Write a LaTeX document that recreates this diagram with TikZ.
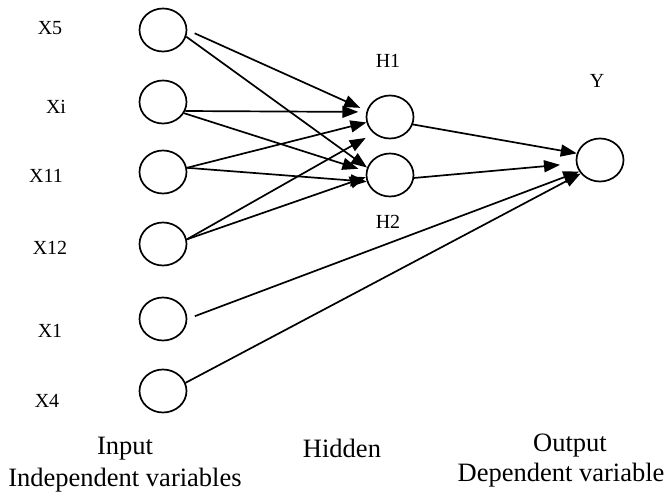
\documentclass[tikz,border=0pt]{standalone}
\usepackage{fontspec}
\setmainfont{Liberation Serif}
\usetikzlibrary{shapes.geometric,arrows.meta}
\begin{document}
\begin{tikzpicture}[x=1pt,y=-1pt,
  neuron/.style={ellipse,draw,line width=1.7pt,minimum width=47pt,minimum height=43pt,inner sep=0pt},
  lbl/.style={font=\fontsize{20}{24}\selectfont,anchor=base,inner sep=0pt},
  caplabel/.style={font=\fontsize{26.5}{30}\selectfont,anchor=base,inner sep=0pt},
  wire/.style={line width=1.7pt,-{Triangle[length=16pt,width=12pt]}}]
\useasboundingbox (0,0) rectangle (672,496);
% input layer
\node[neuron] (x5)  at (163,30)  {};
\node[neuron] (xi)  at (163,102) {};
\node[neuron] (x11) at (163,172) {};
\node[neuron] (x12) at (163,244) {};
\node[neuron] (x1)  at (163,319) {};
\node[neuron] (x4)  at (163,391) {};
% hidden layer
\node[neuron] (h1) at (390,117) {};
\node[neuron] (h2) at (390,175) {};
% output
\node[neuron] (out) at (600,160) {};
% labels
\node[lbl] (lx5)  at (50,34)  {X5};
\node[lbl] (lxi)  at (56,113) {Xi};
\node[lbl] (lx11) at (46,182) {X11};
\node[lbl] (lx12) at (50,254) {X12};
\node[lbl] (lx1)  at (50,337) {X1};
\node[lbl] (lx4)  at (47,407) {X4};
\node[lbl] (lh1)  at (388,67) {H1};
\node[lbl] (lh2)  at (388,228) {H2};
\node[lbl] (ly)   at (597,87) {Y};
\node[caplabel] (cin)  at (125,454) {Input};
\node[caplabel] (cin2) at (125,486) {Independent variables};
\node[caplabel] (chid) at (342,457) {Hidden};
\node[caplabel] (cout) at (570,451) {Output};
\node[caplabel] (cout2) at (561,481) {Dependent variable};
% connections
\draw[wire,shorten <=8pt,shorten >=7pt] (x5.east) -- (h1.165);
\draw[wire] (x5.-16) -- (h2.162);
\draw[wire,shorten >=8pt] (xi.-22) -- (h1.168);
\draw[wire,shorten >=8pt] (xi.-28) -- (h2.171);
\draw[wire] (x11.10) -- (h1.193);
\draw[wire] (x11.10) -- (h2.196);
\draw[wire,shorten >=9pt] (x12.11) -- (h1.225);
\draw[wire] (x12.11) -- (h2.185);
\draw[wire] (h1.-18) -- (out.164);
\draw[wire,shorten >=16pt] (h2.-7) -- (out.188);
\draw[wire,shorten <=8pt] (x1.east) -- (out.209);
\draw[wire] (x4.20) -- (out.215);
\end{tikzpicture}
\end{document}
